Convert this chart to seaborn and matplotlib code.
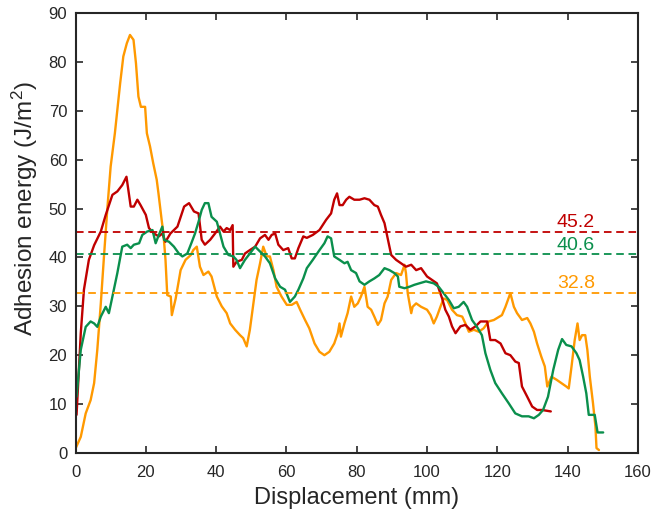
import numpy as np
import matplotlib
matplotlib.use("Agg")
import matplotlib.pyplot as plt
import seaborn as sns

# --- data ---
red_x = [0.3, 1.5, 2.4, 3.8, 5.3, 7.2, 8.6, 10.5, 11.9, 13.3, 14.5, 15.7, 16.6, 17.6, 18.5,
         20.0, 20.9, 22.3, 23.7, 24.7, 25.6, 27.0, 29.0, 30.9, 32.3, 33.7, 35.0, 35.9, 36.8,
         38.3, 39.7, 41.1, 42.1, 43.0, 44.0, 44.7, 44.9, 45.8, 47.3, 48.2, 49.6, 51.1, 52.5,
         53.9, 54.9, 55.8, 56.8, 57.7, 59.1, 60.5, 61.5, 62.4, 63.4, 64.8, 65.8, 67.5, 69.4,
         71.3, 72.7, 73.6, 74.4, 75.1, 76.0, 77.0, 77.9, 79.3, 80.8, 82.2, 83.6, 85.0, 86.0,
         86.9, 87.9, 88.8, 89.8, 91.2, 92.6, 94.0, 95.5, 96.9, 98.3, 100.0, 101.4, 102.8,
         104.3, 105.2, 106.2, 107.1, 108.1, 109.5, 110.9, 112.3, 113.8, 115.2, 117.1, 118.0,
         119.4, 120.9, 122.3, 123.7, 125.1, 126.1, 127.0, 128.5, 129.9, 131.3, 132.7, 135.2]
red_y = [7.8, 24.5, 33.4, 39.5, 42.5, 45.3, 48.7, 52.8, 53.5, 54.8, 56.5, 50.4, 50.4, 51.8, 50.7,
         48.7, 46.0, 44.9, 44.3, 44.9, 43.2, 44.9, 46.3, 50.4, 51.1, 49.4, 49.0, 43.6, 42.6,
         43.6, 44.9, 46.3, 45.3, 46.0, 45.6, 46.6, 38.1, 39.1, 39.5, 40.8, 41.5, 42.2, 43.9,
         44.6, 43.6, 44.6, 44.9, 42.6, 41.5, 41.9, 39.8, 39.8, 41.9, 44.3, 44.0, 44.6, 45.6,
         47.7, 49.0, 51.8, 53.1, 50.7, 50.7, 51.8, 52.4, 51.8, 51.8, 52.1, 51.8, 50.7, 50.4,
         48.7, 47.0, 43.9, 40.5, 39.5, 38.8, 38.1, 38.5, 37.4, 37.8, 36.1, 35.4, 34.7,
         31.6, 29.3, 27.9, 25.9, 24.5, 25.9, 26.2, 25.2, 25.9, 26.9, 26.9, 23.1,
         23.1, 22.4, 20.4, 20.0, 18.7, 18.4, 13.6, 11.5, 9.5, 8.8, 8.8, 8.5]

green_x = [0.3, 1.5, 2.9, 4.3, 5.3, 6.2, 7.2, 8.6, 9.5, 10.5, 11.9, 13.3, 14.7, 15.7, 16.6,
           18.1, 19.0, 20.4, 21.9, 22.8, 23.7, 24.7, 25.2, 26.6, 28.0, 29.4, 30.4, 31.8, 33.0,
           34.0, 35.0, 35.9, 36.8, 37.8, 38.7, 40.2, 41.1, 42.1, 43.5, 44.9, 45.8, 46.8, 48.2,
           49.6, 51.1, 52.5, 53.9, 55.3, 56.8, 58.2, 59.6, 61.0, 62.4, 63.4, 64.8, 65.8, 67.5,
           69.4, 70.8, 71.7, 72.7, 73.6, 75.1, 76.5, 77.4, 78.4, 79.8, 80.8, 82.2, 83.6, 85.0,
           86.4, 87.9, 89.3, 90.7, 91.7, 92.1, 93.6, 95.0, 96.4, 97.8, 99.7, 101.9, 103.3,
           104.7, 106.2, 107.6, 109.0, 110.4, 111.4, 112.8, 114.2, 115.6, 116.6, 118.0, 119.4,
           121.3, 123.2, 125.1, 127.0, 128.9, 130.4, 131.8, 133.0, 134.4, 135.9, 137.3, 138.4,
           139.6, 141.1, 142.5, 143.4, 144.4, 145.3, 146.0, 147.7, 148.5, 150.1]
green_y = [11.5, 21.1, 25.8, 26.9, 26.5, 25.8, 27.9, 29.9, 28.6, 32.0, 36.8, 42.2, 42.6, 41.9, 42.6,
           42.9, 44.6, 45.3, 45.6, 42.9, 44.6, 46.3, 43.6, 43.2, 42.2, 40.8, 40.2, 40.8, 43.0,
           44.9, 47.3, 49.7, 51.1, 51.1, 48.3, 47.3, 44.9, 42.2, 40.5, 40.2, 39.5, 37.8, 39.5,
           40.8, 42.2, 41.2, 40.2, 38.8, 35.7, 34.0, 33.4, 30.9, 32.0, 33.4, 35.7, 37.8, 39.5,
           41.5, 42.9, 44.3, 43.9, 40.2, 39.5, 38.8, 39.1, 37.4, 36.8, 35.1, 34.4, 35.1, 35.7,
           36.4, 37.8, 37.4, 36.8, 36.1, 34.0, 33.7, 34.0, 34.4, 34.7, 35.1, 34.7, 34.0,
           32.7, 31.3, 29.6, 29.9, 30.9, 29.9, 27.2, 25.8, 24.1, 20.4, 17.0, 14.3,
           12.2, 10.2, 8.1, 7.5, 7.5, 7.1, 7.8, 8.8, 11.5, 17.0, 21.1, 23.3,
           22.1, 21.8, 20.4, 19.0, 15.6, 12.2, 7.8, 7.8, 4.2, 4.2]

orange_x = [0.0, 1.5, 2.9, 4.3, 5.3, 6.2, 7.2, 8.1, 9.1, 10.0, 11.2, 12.7, 13.6, 14.6, 15.5,
            16.5, 17.2, 17.9, 18.6, 19.8, 20.3, 21.2, 22.1, 23.1, 23.6, 24.5, 25.0, 25.6, 26.1,
            27.1, 27.4, 28.5, 29.9, 31.3, 32.8, 33.5, 34.5, 35.4, 36.4, 37.8, 38.7, 40.2, 41.6,
            43.0, 44.0, 45.4, 46.8, 47.7, 48.7, 49.6, 50.6, 51.5, 52.5, 53.4, 54.4, 55.3, 56.3,
            57.2, 58.6, 60.1, 61.5, 62.9, 63.9, 65.3, 66.5, 68.0, 69.4, 70.8, 72.2, 73.6, 74.6,
            75.1, 75.5, 76.5, 77.4, 78.4, 79.3, 80.3, 81.2, 82.2, 83.1, 84.1, 85.0, 86.0, 86.9,
            87.9, 88.8, 89.8, 91.2, 92.6, 93.6, 94.0, 94.5, 95.5, 95.9, 96.9, 98.3, 100.0,
            101.0, 101.9, 102.8, 103.8, 104.7, 105.7, 107.1, 108.5, 110.0, 110.9, 111.9, 113.3,
            114.7, 116.1, 117.5, 119.0, 119.9, 121.3, 122.3, 123.7, 124.7, 125.6, 127.0, 128.5,
            129.4, 130.4, 131.3, 132.5, 133.5, 134.2, 135.4, 136.8, 138.2, 139.6, 140.3, 141.1,
            142.0, 142.8, 143.4, 144.1, 145.0, 145.6, 146.3, 147.2, 147.9, 148.2, 148.9]
orange_y = [0.9, 3.3, 8.1, 10.8, 14.3, 21.1, 30.6, 40.2, 50.4, 58.6, 65.4, 75.6, 81.1, 83.8, 85.5,
            84.5, 79.7, 72.9, 70.8, 70.8, 65.4, 62.7, 59.3, 55.9, 53.1, 47.7, 45.0, 39.5, 32.3,
            32.0, 28.2, 31.6, 37.4, 39.5, 40.5, 41.5, 42.2, 38.1, 36.4, 37.1, 36.1, 32.0, 30.0,
            28.6, 26.5, 25.2, 24.1, 23.5, 21.8, 25.2, 30.6, 35.4, 38.8, 42.2, 40.2, 40.2, 37.4,
            34.0, 32.0, 30.3, 30.3, 30.9, 29.3, 27.2, 25.5, 22.4, 20.7, 20.0, 20.7, 22.4, 24.5,
            26.5, 23.8, 26.5, 28.6, 32.0, 29.9, 30.6, 32.0, 34.0, 29.9, 29.3, 27.9, 26.2, 27.2,
            30.6, 32.0, 35.4, 36.8, 36.4, 38.5, 36.8, 32.7, 28.6, 29.9, 30.6, 29.9, 29.3,
            28.2, 26.5, 27.9, 29.9, 31.6, 31.3, 29.3, 28.2, 27.9, 26.5, 24.8, 25.2,
            24.8, 25.5, 26.9, 27.2, 27.6, 28.2, 29.9, 32.7, 29.9, 28.6, 27.2, 27.6,
            26.5, 24.8, 22.4, 19.7, 17.7, 13.6, 15.6, 15.0, 14.3, 13.6, 13.2, 17.7,
            23.1, 26.5, 23.1, 24.1, 24.1, 21.1, 15.6, 10.2, 5.4, 1.0, 0.6]

means = [45.2, 40.6, 32.8]
mean_labels = ["45.2", "40.6", "32.8"]

# --- style (MATLAB-like) ---
RED = "#C00000"
GREEN = "#0A8F4C"
ORANGE = "#FF9900"
AXC = "#262626"

sns.set_style("ticks")
plt.rcParams['font.family'] = ['Liberation Sans', 'DejaVu Sans']
plt.rcParams['mathtext.fontset'] = 'custom'
plt.rcParams['mathtext.rm'] = 'Liberation Sans'
plt.rcParams['mathtext.it'] = 'Liberation Sans:italic'

fig = plt.figure(figsize=(6.52, 5.18), dpi=100)
ax = fig.add_axes([0.1158, 0.1255, 0.8627, 0.8495])

for xs, ys, c in [(orange_x, orange_y, ORANGE), (red_x, red_y, RED), (green_x, green_y, GREEN)]:
    sns.lineplot(x=xs, y=ys, color=c, lw=1.7, estimator=None, sort=False, ax=ax)

for m, lab, c in zip(means, mean_labels, [RED, GREEN, ORANGE]):
    ax.axhline(m, color=c, lw=1.3, linestyle=(0, (4.2, 2.6)))
    ax.text(142.3, m + 1.0, lab, color=c, fontsize=14, ha='center', va='baseline')

ax.set_xlim(0, 160)
ax.set_ylim(0, 90)
ax.set_xticks(np.arange(0, 161, 20))
ax.set_yticks(np.arange(0, 91, 10))
ax.tick_params(direction='in', top=True, right=True, length=5, width=1.2,
               color=AXC, labelcolor=AXC, labelsize=12)
ax.tick_params(axis='x', pad=8.5)
ax.tick_params(axis='y', pad=6)
for s in ax.spines.values():
    s.set_color(AXC)
    s.set_linewidth(1.5)

ax.set_xlabel("Displacement (mm)", fontsize=17, color=AXC, labelpad=5)
ax.set_ylabel("Adhesion energy (J/m$^2$)", fontsize=17.5, color=AXC)
ax.yaxis.set_label_coords(-0.063, 0.555)

fig.savefig("out.png", dpi=100)
